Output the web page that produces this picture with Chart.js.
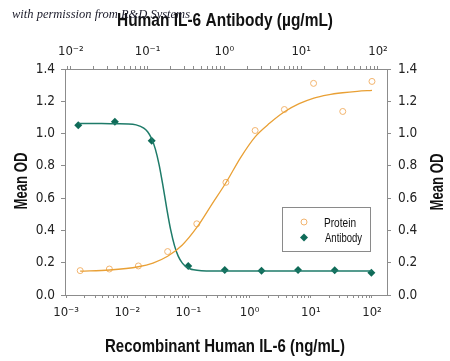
<!DOCTYPE html>
<html><head><meta charset="utf-8">
<script src="https://cdn.jsdelivr.net/npm/chart.js@4"></script>
<style>html,body{margin:0;padding:0;background:#fff;}#wrap{width:450px;height:361px;position:relative}</style>
</head><body><div id="wrap"><canvas id="c" width="450" height="361"></canvas></div>
<script>
// ---- data ----
const proteinConc = [0.0017, 0.0051, 0.0152, 0.0457, 0.137, 0.41, 1.23, 3.7, 11.1, 33.3, 100]; // ng/mL (bottom axis)
const proteinOD   = [0.151, 0.161, 0.180, 0.269, 0.441, 0.698, 1.019, 1.149, 1.311, 1.137, 1.323];
const antibodyConc = [0.0125, 0.0375, 0.113, 0.338, 1.01, 3.04, 9.1, 27.3, 82]; // ug/mL (top axis)
const antibodyOD   = [1.051, 1.074, 0.956, 0.180, 0.155, 0.150, 0.155, 0.153, 0.138];
// fitted curves (log10 of concentration, OD)
const proteinFitLog = [-2.77, -2.29, -1.82, -1.58, -1.34, -1.10, -0.86, -0.62, -0.38, -0.15, 0.09, 0.33, 0.57, 0.81, 1.05, 1.28, 1.52, 1.76, 2.00];
const proteinFitOD  = [0.148, 0.155, 0.175, 0.198, 0.240, 0.310, 0.420, 0.560, 0.700, 0.850, 0.980, 1.065, 1.135, 1.185, 1.220, 1.240, 1.253, 1.262, 1.268];
const antibodyFitLog = [-1.90, -1.60, -1.40, -1.25, -1.15, -1.05, -1.00, -0.95, -0.90, -0.85, -0.80, -0.75, -0.70, -0.65, -0.60, -0.55, -0.50, -0.45, -0.40, -0.30, -0.15, 0.10, 0.60, 1.20, 1.92];
const antibodyFitOD  = [1.062, 1.062, 1.061, 1.060, 1.054, 1.034, 1.011, 0.971, 0.905, 0.806, 0.676, 0.534, 0.405, 0.306, 0.239, 0.199, 0.176, 0.163, 0.156, 0.150, 0.148, 0.148, 0.148, 0.148, 0.148];
const bottomDecades = [-3, -2, -1, 0, 1, 2];
const topDecades = [-2, -1, 0, 1, 2];
const yTickValues = [0, 0.2, 0.4, 0.6, 0.8, 1.0, 1.2, 1.4];
const legendLabels = ['Protein', 'Antibody'];
const xTitle = 'Recombinant Human IL-6 (ng/mL)';
const x2Title = 'Human IL-6 Antibody (\u00B5g/mL)';
const yTitle = 'Mean OD';

// ---- style ----
const TICKFONT = "'DejaVu Sans Condensed','Liberation Sans',sans-serif";
const TITLEFONT = "bold 18px 'Liberation Sans','DejaVu Sans',sans-serif";
const ORANGE_LINE = '#E9A035', ORANGE_PT = '#F2B46E';
const TEAL_LINE = '#1E7B69', TEAL_PT = '#0F6B58';
const AXIS = '#8c8c8c';

const SUP = {'-':'\u207B','0':'\u2070','1':'\u00B9','2':'\u00B2','3':'\u00B3','4':'\u2074'};
const sup = n => String(n).split('').map(c => SUP[c]).join('');

function minorTicks(scale) {
  const t = [];
  const lo = Math.floor(Math.log10(scale.min)), hi = Math.floor(Math.log10(scale.max));
  for (let e = lo; e <= hi; e++) for (let k = 1; k < 10; k++) {
    const v = k * Math.pow(10, e);
    if (v >= scale.min && v <= scale.max) t.push({value: v});
  }
  scale.ticks = t;
}
function decadeLabel(decades) {
  return v => {
    const l = Math.log10(v), r = Math.round(l);
    return (Math.abs(l - r) < 1e-6 && decades.includes(r)) ? '10' + sup(r) : '';
  };
}

const xy = (xs, ys) => xs.map((x, i) => ({x, y: ys[i]}));
const xyLog = (ls, ys) => ls.map((l, i) => ({x: Math.pow(10, l), y: ys[i]}));

// draws text horizontally condensed to a target width (the reference uses a condensed face)
function condensedText(ctx, text, x, y, font, width, rot, align) {
  ctx.save();
  ctx.font = font;
  const w = ctx.measureText(text).width;
  ctx.translate(x, y);
  if (rot) ctx.rotate(rot);
  ctx.scale(width / w, 1);
  ctx.textAlign = align || 'center';
  ctx.textBaseline = 'alphabetic';
  ctx.fillText(text, 0, 0);
  ctx.restore();
}

const overlay = {
  id: 'overlay',
  afterDraw(chart) {
    const ctx = chart.ctx;
    const area = chart.chartArea;
    const midY = (area.top + area.bottom) / 2;
    ctx.save();
    ctx.fillStyle = '#111';
    condensedText(ctx, x2Title, 225, 26, TITLEFONT, 216);
    condensedText(ctx, xTitle, 225, 352, TITLEFONT, 240);
    condensedText(ctx, yTitle, 26.5, midY - 1, TITLEFONT, 57, -Math.PI / 2);
    condensedText(ctx, yTitle, 443, midY, TITLEFONT, 57, -Math.PI / 2);
    ctx.restore();
    // legend
    ctx.save();
    ctx.fillStyle = '#fff';
    ctx.fillRect(282.5, 207.5, 88, 44);
    ctx.strokeStyle = '#8a8a8a'; ctx.lineWidth = 1;
    ctx.strokeRect(282.5, 207.5, 88, 44);
    ctx.beginPath(); ctx.arc(304, 222, 3, 0, Math.PI * 2);
    ctx.strokeStyle = ORANGE_PT; ctx.stroke();
    ctx.beginPath(); ctx.moveTo(304, 233.5); ctx.lineTo(308, 237.5); ctx.lineTo(304, 241.5); ctx.lineTo(300, 237.5); ctx.closePath();
    ctx.fillStyle = TEAL_PT; ctx.fill();
    ctx.fillStyle = '#111';
    const lf = "13px 'Liberation Sans','DejaVu Sans',sans-serif";
    condensedText(ctx, legendLabels[0], 324, 226.5, lf, 32, 0, 'left');
    condensedText(ctx, legendLabels[1], 325, 242, lf, 37, 0, 'left');
    ctx.restore();
    // watermark
    ctx.save();
    ctx.font = "italic 12.5px 'Liberation Serif','DejaVu Serif',serif";
    ctx.fillStyle = '#1b1b2a';
    ctx.textAlign = 'left'; ctx.textBaseline = 'alphabetic';
    ctx.fillText('with permission from R&D Systems', 12, 18);
    ctx.restore();
  }
};

new Chart(document.getElementById('c'), {
  type: 'scatter',
  data: {
    datasets: [
      {label: 'Protein fit', data: xyLog(proteinFitLog, proteinFitOD), xAxisID: 'x', yAxisID: 'y',
       showLine: true, pointRadius: 0, borderColor: ORANGE_LINE, borderWidth: 1.3, cubicInterpolationMode: 'monotone'},
      {label: 'Antibody fit', data: xyLog(antibodyFitLog, antibodyFitOD), xAxisID: 'x2', yAxisID: 'y',
       showLine: true, pointRadius: 0, borderColor: TEAL_LINE, borderWidth: 1.5, cubicInterpolationMode: 'monotone'},
      {label: 'Protein', data: xy(proteinConc, proteinOD), xAxisID: 'x', yAxisID: 'y',
       pointStyle: 'circle', pointRadius: 3, borderWidth: 1, borderColor: ORANGE_PT, backgroundColor: 'rgba(255,255,255,0)'},
      {label: 'Antibody', data: xy(antibodyConc, antibodyOD), xAxisID: 'x2', yAxisID: 'y',
       pointStyle: 'rectRot', pointRadius: 4, borderWidth: 0, borderColor: TEAL_PT, backgroundColor: TEAL_PT}
    ]
  },
  options: {
    responsive: false, animation: false, devicePixelRatio: 1,
    layout: {padding: 0},
    plugins: {legend: {display: false}, tooltip: {enabled: false}},
    scales: {
      x: {
        type: 'logarithmic', position: 'bottom', min: 0.00096, max: 176,
        afterBuildTicks: s => minorTicks(s),
        afterFit: s => { s.height = 66; },
        grid: {drawOnChartArea: false, drawTicks: true, tickLength: 3, color: AXIS},
        border: {display: true, color: AXIS, width: 1},
        ticks: {autoSkip: false, maxRotation: 0, padding: 7, color: '#222', font: {family: TICKFONT, size: 13},
                callback: decadeLabel(bottomDecades)},
        title: {display: false, text: xTitle}
      },
      x2: {
        type: 'logarithmic', position: 'top', min: 0.0084, max: 131,
        afterBuildTicks: s => minorTicks(s),
        afterFit: s => { s.height = 69; },
        grid: {drawOnChartArea: false, drawTicks: true, tickLength: 3, color: AXIS},
        border: {display: true, color: AXIS, width: 1},
        ticks: {autoSkip: false, maxRotation: 0, padding: 7, color: '#222', font: {family: TICKFONT, size: 13},
                callback: decadeLabel(topDecades)},
        title: {display: false, text: x2Title}
      },
      y: {
        type: 'linear', position: 'left', min: 0, max: 1.4,
        afterBuildTicks: s => { s.ticks = yTickValues.map(v => ({value: v})); },
        afterFit: s => { s.width = 65; },
        grid: {drawOnChartArea: false, drawTicks: true, tickLength: 4, color: AXIS},
        border: {display: true, color: AXIS, width: 1},
        ticks: {padding: 6, color: '#222', font: {family: TICKFONT, size: 13.5}, callback: v => v.toFixed(1)},
        title: {display: false, text: yTitle}
      },
      y2: {
        type: 'linear', position: 'right', min: 0, max: 1.4,
        afterBuildTicks: s => { s.ticks = yTickValues.map(v => ({value: v})); },
        afterFit: s => { s.width = 63; },
        grid: {drawOnChartArea: false, drawTicks: true, tickLength: 4, color: AXIS},
        border: {display: true, color: AXIS, width: 1},
        ticks: {padding: 7, color: '#222', font: {family: TICKFONT, size: 13.5}, callback: v => v.toFixed(1)}
      }
    }
  },
  plugins: [overlay]
});
</script></body></html>
